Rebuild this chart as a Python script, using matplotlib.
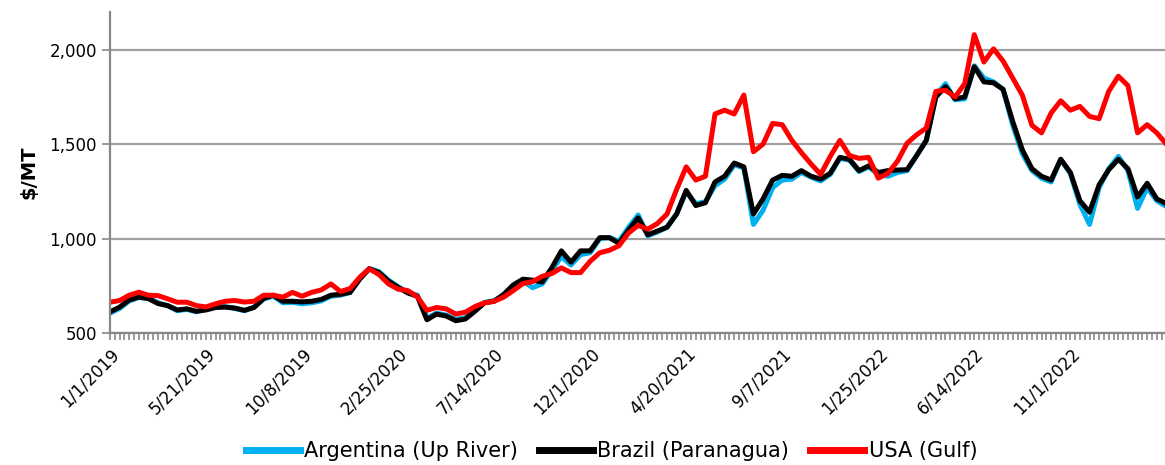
import matplotlib
matplotlib.use('Agg')
import matplotlib.pyplot as plt
import matplotlib.dates as mdates
import matplotlib.ticker as mticker
import pandas as pd

start = '2019-01-01'
step = '14D'

argentina = [605, 630, 670, 688, 685, 660, 645, 618, 625, 612,
             630, 640, 640, 630, 618, 638, 680, 695, 660, 662,
             655, 660, 670, 695, 700, 715, 790, 842, 825, 780,
             745, 715, 700, 580, 605, 595, 572, 580, 620, 662,
             672, 700, 745, 775, 740, 760, 830, 905, 860, 915,
             925, 1000, 1005, 985, 1060, 1125, 1015, 1035, 1060, 1130,
             1250, 1185, 1195, 1280, 1315, 1390, 1375, 1075, 1150, 1270,
             1310, 1315, 1350, 1325, 1305, 1340, 1425, 1415, 1355, 1380,
             1340, 1330, 1350, 1360, 1440, 1520, 1760, 1820, 1735, 1740,
             1915, 1850, 1830, 1790, 1600, 1450, 1360, 1320, 1300, 1420,
             1345, 1180, 1075, 1270, 1370, 1435, 1360, 1160, 1270, 1200, 1170]

brazil = [612, 637, 675, 690, 682, 656, 645, 622, 628, 615,
          622, 635, 637, 632, 620, 635, 683, 700, 668, 668,
          665, 668, 678, 700, 705, 715, 785, 840, 820, 775,
          742, 712, 695, 570, 600, 590, 565, 574, 615, 660,
          668, 705, 755, 785, 780, 770, 845, 935, 875, 935,
          935, 1005, 1005, 975, 1045, 1110, 1020, 1040, 1060, 1130,
          1255, 1175, 1190, 1300, 1330, 1400, 1380, 1130, 1210, 1310,
          1335, 1330, 1360, 1330, 1315, 1346, 1430, 1420, 1360, 1385,
          1350, 1360, 1363, 1365, 1440, 1520, 1750, 1805, 1740, 1750,
          1910, 1830, 1825, 1790, 1620, 1470, 1370, 1330, 1310, 1420,
          1350, 1200, 1140, 1285, 1365, 1420, 1370, 1220, 1293, 1210, 1185]

usa = [663, 672, 700, 716, 700, 698, 681, 663, 663, 645,
       638, 655, 668, 672, 664, 668, 700, 700, 690, 715,
       695, 715, 728, 760, 720, 735, 795, 840, 810, 760,
       732, 725, 692, 620, 635, 628, 600, 610, 640, 660,
       668, 690, 725, 762, 772, 800, 815, 845, 820, 820,
       880, 925, 938, 962, 1030, 1070, 1050, 1080, 1130, 1260,
       1380, 1310, 1330, 1660, 1680, 1660, 1760, 1460, 1500, 1610,
       1603, 1520, 1455, 1395, 1340, 1435, 1520, 1440, 1425, 1430,
       1320, 1345, 1410, 1505, 1550, 1585, 1780, 1785, 1750, 1820,
       2080, 1935, 2005, 1940, 1850, 1760, 1600, 1560, 1665, 1730,
       1680, 1700, 1647, 1635, 1780, 1860, 1810, 1560, 1603, 1560, 1500]

names = ['Argentina (Up River)', 'Brazil (Paranagua)', 'USA (Gulf)']
colors = ['#00B0F0', '#000000', '#FF0000']

dates = pd.date_range(start, periods=len(usa), freq=step)

fig = plt.figure(figsize=(11.65, 4.65), dpi=100)
ax = fig.add_axes([110/1165, 1-333/465, 1-110/1165, (333-12)/465])

for vals, name, c in zip([argentina, brazil, usa], names, colors):
    ax.plot(dates, vals, color=c, lw=3.6, label=name, solid_joinstyle='round')

t0 = pd.Timestamp(start)
ax.set_xlim(t0, t0 + pd.Timedelta(days=1538))
ax.set_ylim(500, 2200)

# axe x : graduations tous les 140 jours, petites graduations chaque semaine
major = pd.date_range(t0, t0 + pd.Timedelta(days=1538), freq='140D')
ax.xaxis.set_major_locator(mticker.FixedLocator(mdates.date2num(major)))
ax.xaxis.set_major_formatter(mticker.FixedFormatter([f'{d.month}/{d.day}/{d.year}' for d in major]))
minor = pd.date_range(t0, t0 + pd.Timedelta(days=1538), freq='7D')
ax.xaxis.set_minor_locator(mticker.FixedLocator(mdates.date2num(minor)))
plt.setp(ax.get_xticklabels(), rotation=45, ha='right', rotation_mode='anchor')

ax.set_yticks([500, 1000, 1500, 2000])
ax.yaxis.set_major_formatter(mticker.FuncFormatter(lambda v, p: f'{int(v):,}'))

ax.tick_params(axis='both', which='both', colors='#888888', labelcolor='black', labelsize=12)
ax.tick_params(axis='x', which='both', length=5, width=1.2)
ax.tick_params(axis='y', length=6, width=1.2)

ax.grid(axis='y', color='#A0A0A0', lw=1.6)
ax.set_axisbelow(True)
for s in ['top', 'right']:
    ax.spines[s].set_visible(False)
for s in ['left', 'bottom']:
    ax.spines[s].set_color('#888888')
    ax.spines[s].set_linewidth(1.6)

ax.set_ylabel(r'\$/MT', fontsize=14, fontweight='bold', labelpad=8)

fig.legend(loc='center', bbox_to_anchor=(0.525, 0.03), ncol=3, frameon=False,
           fontsize=15, handlelength=2.6, handletextpad=0.2, columnspacing=1.0,
           borderaxespad=0)
for h in fig.legends[0].get_lines():
    h.set_linewidth(5)

fig.savefig('out.png', dpi=100)
